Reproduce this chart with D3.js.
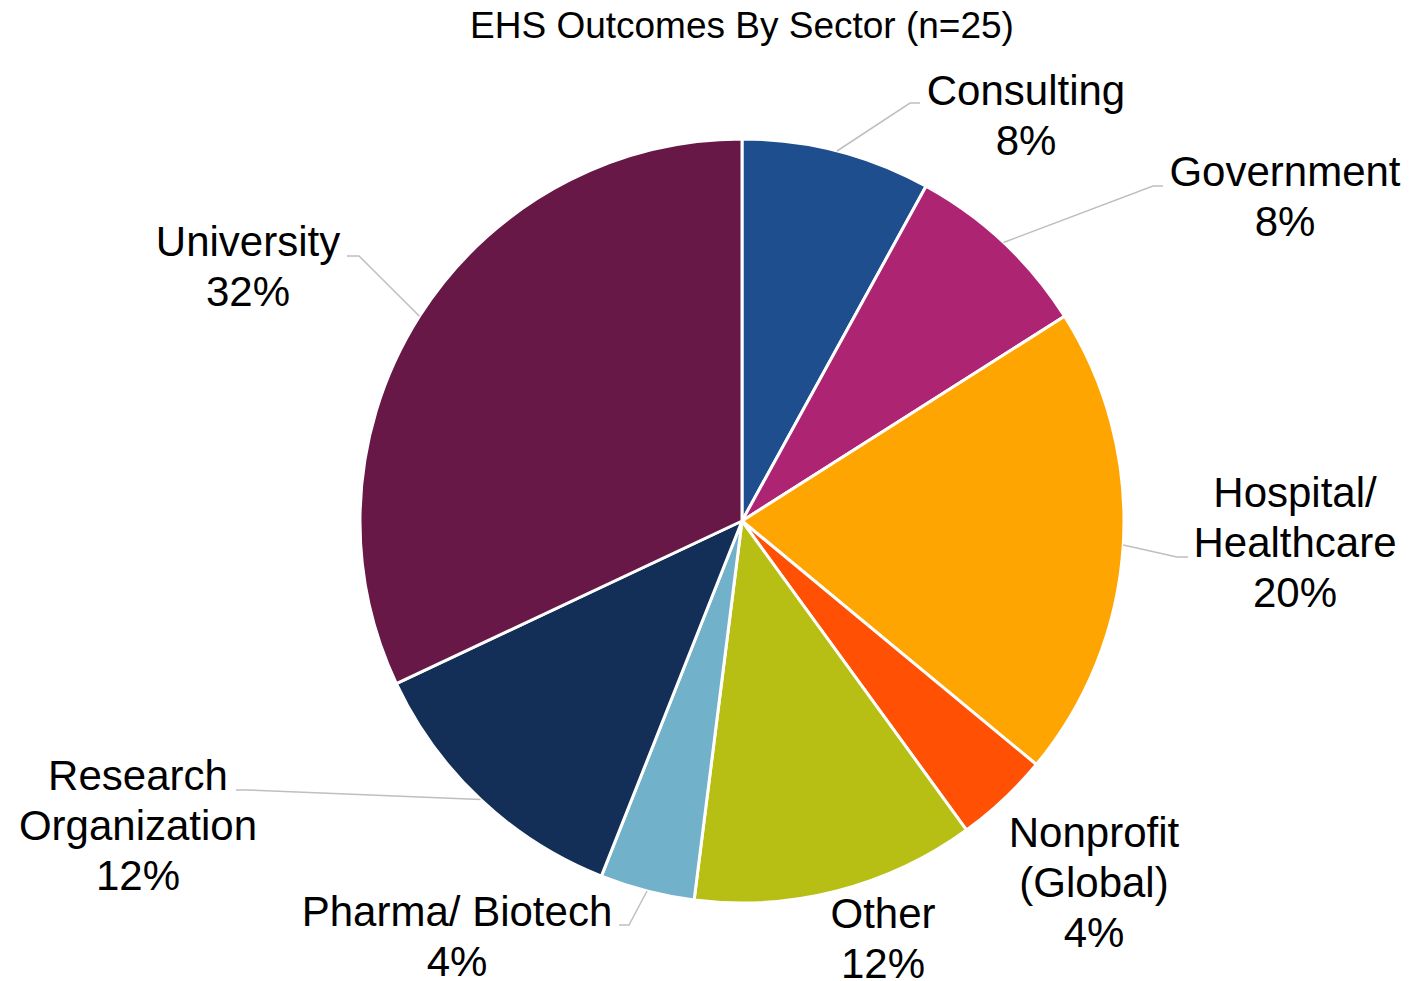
<!DOCTYPE html>
<html>
<head>
<meta charset="utf-8">
<script src="https://cdn.jsdelivr.net/npm/d3@7"></script>
<style>
  body { margin: 0; background: #fff; }
  text { font-family: "Liberation Sans", Arial, sans-serif; fill: #000; }
</style>
</head>
<body>
<div id="chart"></div>
<script>
// data (counts out of n=25)
var categories = ["Consulting", "Government", "Hospital/ Healthcare", "Nonprofit (Global)", "Other", "Pharma/ Biotech", "Research Organization", "University"];
var counts = [2, 2, 5, 1, 3, 1, 3, 8];
var labelLines = [["Consulting"], ["Government"], ["Hospital/", "Healthcare"], ["Nonprofit", "(Global)"], ["Other"], ["Pharma/ Biotech"], ["Research", "Organization"], ["University"]];
var colors = ["#1F4E8E", "#AD2472", "#FFA502", "#FF5003", "#B8BF14", "#72B1CA", "#142F57", "#671846"];
var title = "EHS Outcomes By Sector (n=25)";

// label placement (x centre, first baseline, leader elbow or null)
var labelPos = [
    { x: 1026, y: 105, elbow: [[910, 103], [920, 103]] },
    { x: 1285, y: 186, elbow: [[1153, 186], [1163, 186]] },
    { x: 1295, y: 507, elbow: [[1177, 557], [1188, 557]] },
    { x: 1094, y: 847, elbow: null },
    { x: 883, y: 928, elbow: null },
    { x: 457, y: 926, elbow: [[629, 925], [619, 925]] },
    { x: 138, y: 790, elbow: [[247, 790], [236, 790]] },
    { x: 248, y: 256, elbow: [[359, 256], [347, 256]] }
];

var svgWidth = 1412;
var svgHeight = 981;
var cx = 742, cy = 521, radius = 382;
var lineH = 50;

var svg = d3.select("#chart")
    .append("svg")
    .attr("width", svgWidth)
    .attr("height", svgHeight);

svg.append("text")
    .attr("x", cx)
    .attr("y", 38)
    .attr("text-anchor", "middle")
    .style("font-size", "37px")
    .text(title);

var total = d3.sum(counts);
var data = categories.map((c, i) => ({ name: c, value: counts[i], i: i }));

var pie = d3.pie()
    .sort(null)
    .value(d => d.value);

var arc = d3.arc()
    .innerRadius(0)
    .outerRadius(radius);

var arcs = pie(data);

var g = svg.append("g")
    .attr("transform", `translate(${cx}, ${cy})`);

g.selectAll("path")
    .data(arcs)
    .enter()
    .append("path")
    .attr("d", arc)
    .attr("fill", d => colors[d.data.i])
    .attr("stroke", "#fff")
    .attr("stroke-width", 3)
    .attr("stroke-linejoin", "round");

// leader lines
arcs.forEach(function (d) {
    var p = labelPos[d.data.i];
    if (!p.elbow) return;
    var mid = (d.startAngle + d.endAngle) / 2;
    var start = [cx + radius * Math.sin(mid), cy - radius * Math.cos(mid)];
    svg.append("polyline")
        .attr("points", [start].concat(p.elbow).map(q => q.join(",")).join(" "))
        .attr("fill", "none")
        .attr("stroke", "#BFBFBF")
        .attr("stroke-width", 1.5);
});

// labels
arcs.forEach(function (d) {
    var p = labelPos[d.data.i];
    var lines = labelLines[d.data.i].concat([Math.round(d.data.value / total * 100) + "%"]);
    var t = svg.append("text")
        .attr("text-anchor", "middle")
        .style("font-size", "42px");
    lines.forEach(function (s, k) {
        t.append("tspan")
            .attr("x", p.x)
            .attr("y", p.y + k * lineH)
            .text(s);
    });
});
</script>
</body>
</html>
